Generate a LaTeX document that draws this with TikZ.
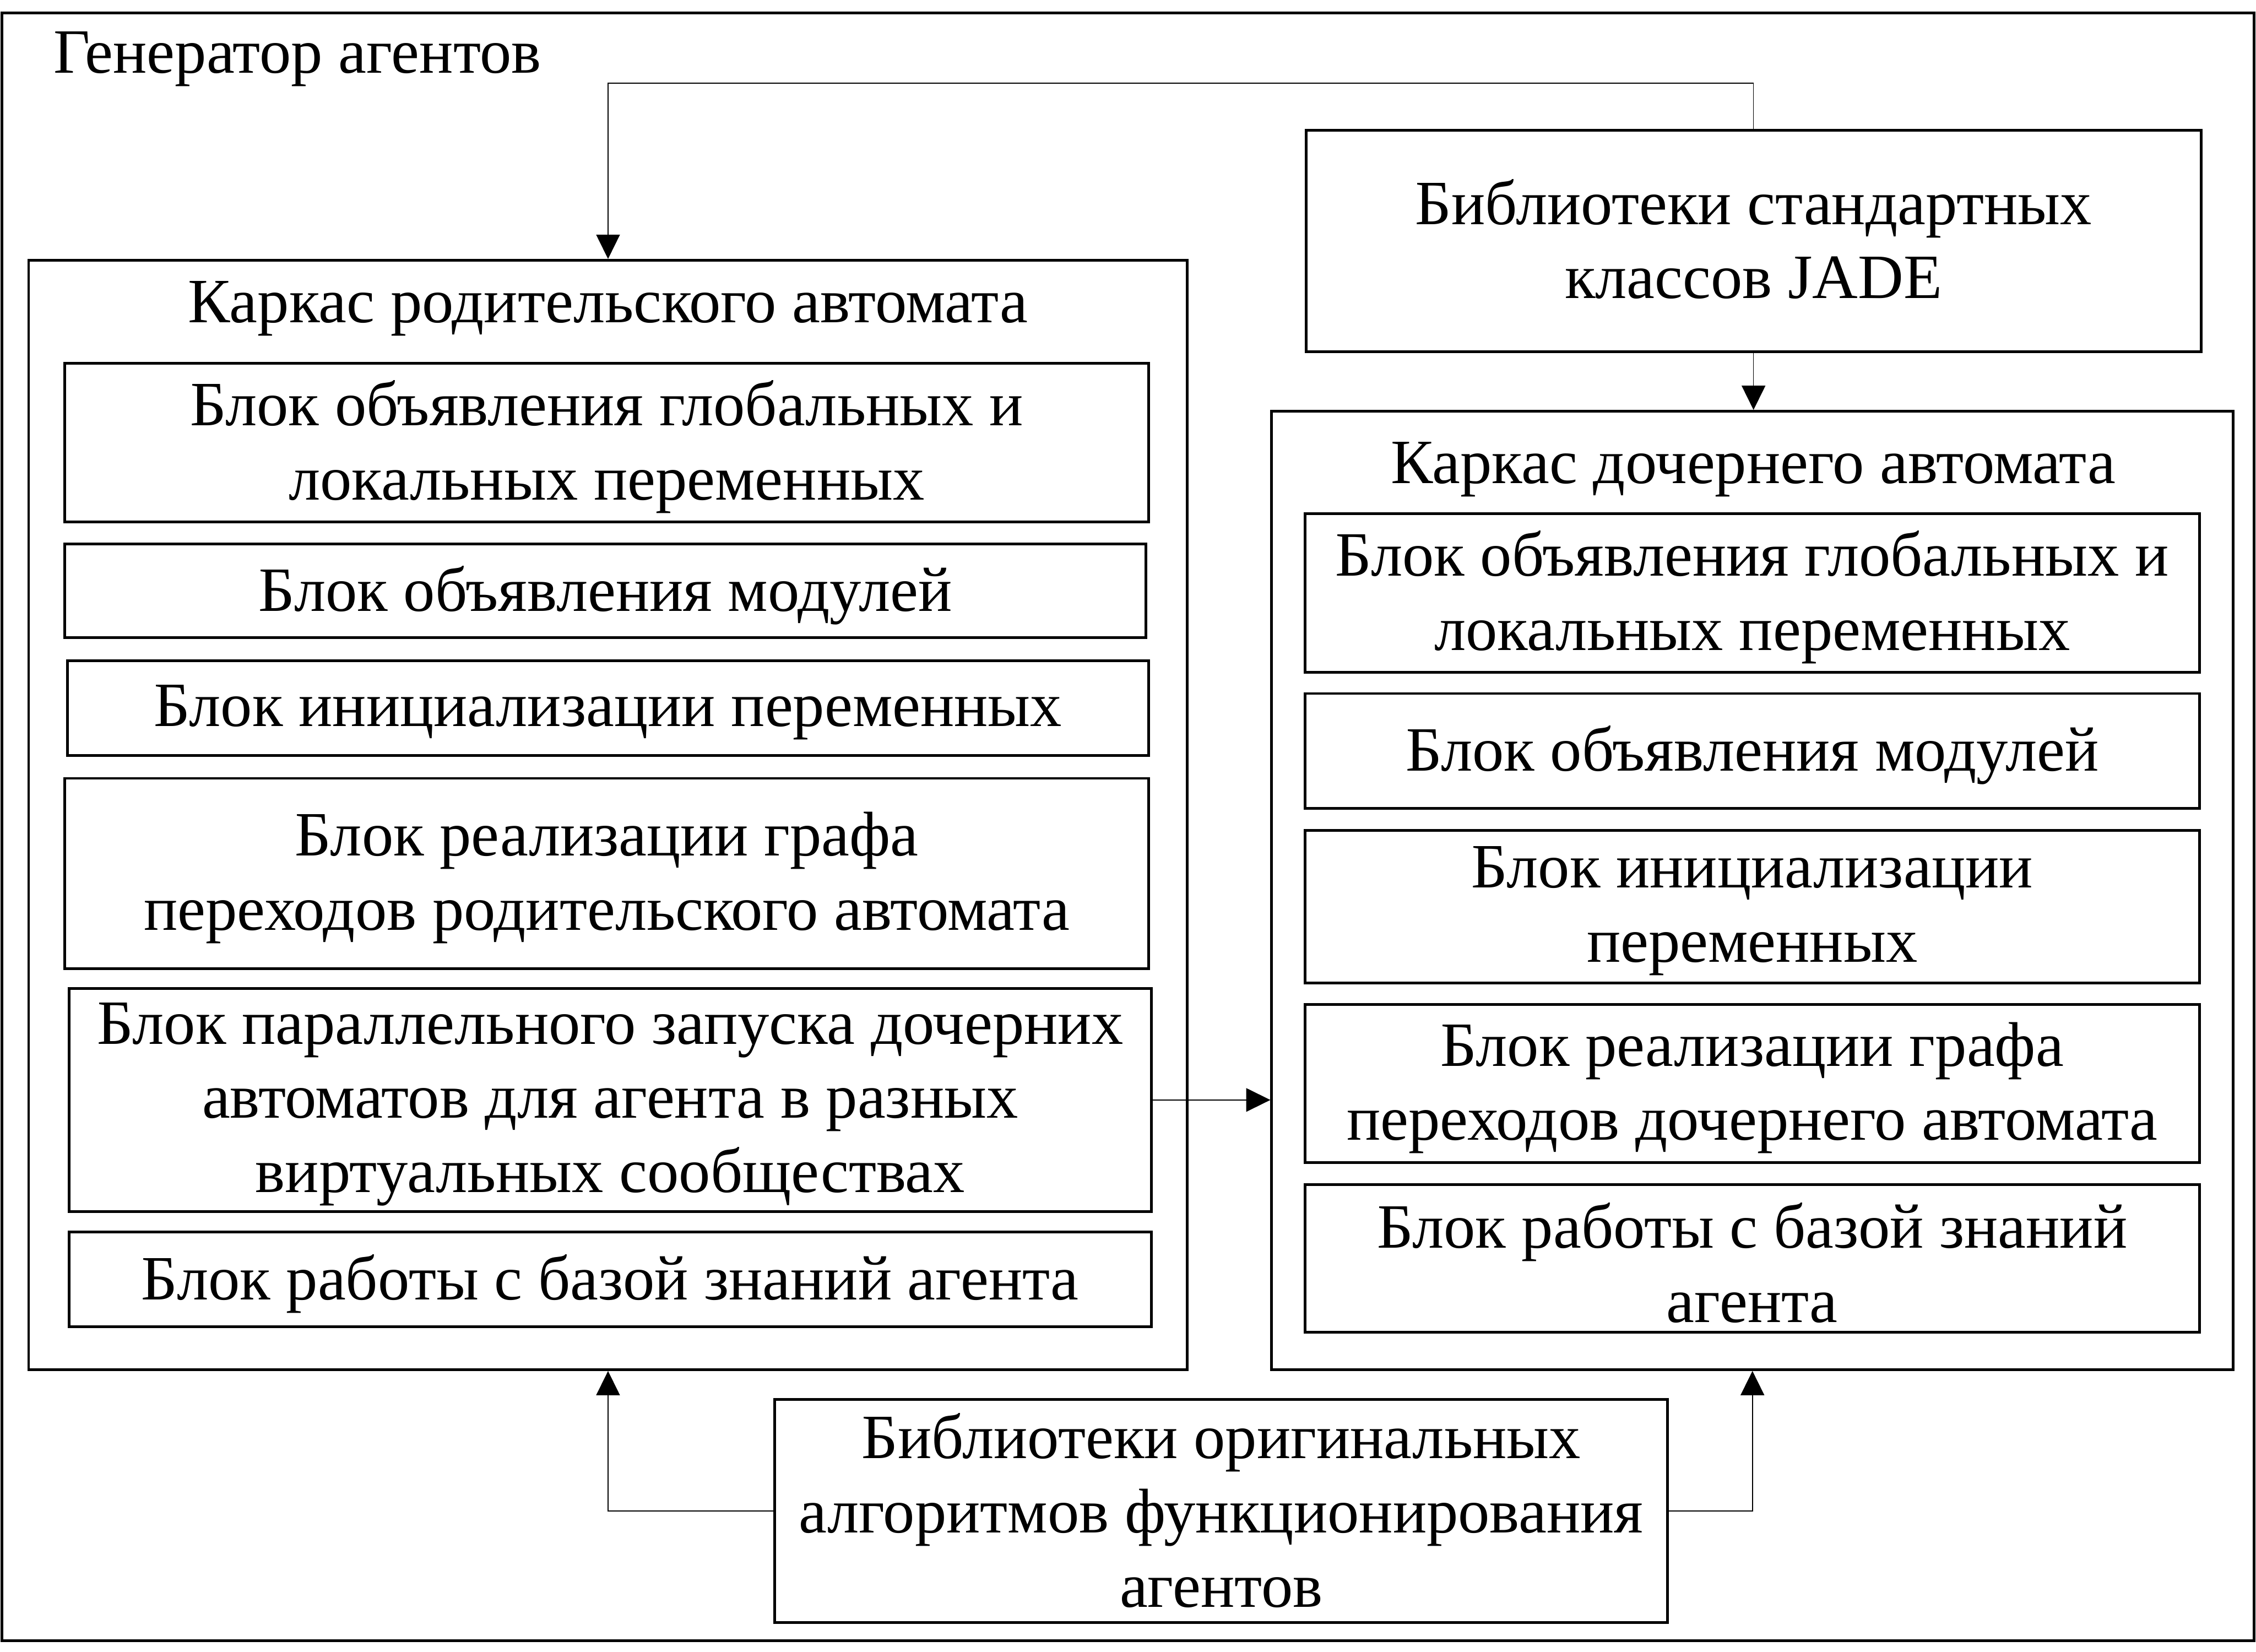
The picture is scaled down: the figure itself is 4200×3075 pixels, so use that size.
\documentclass[tikz,border=0pt]{standalone}
\usepackage{fontspec}
\setmainfont{Liberation Serif}
\usetikzlibrary{arrows.meta}
\begin{document}
\begin{tikzpicture}[x=0.01cm,y=-0.01cm,
  txt/.style={font=\fontsize{33.4}{39.3}\selectfont, align=center, inner sep=0pt},
  blk/.style={draw, line width=0.05cm, inner sep=0pt},
  conn/.style={line width=0.45pt, -{Triangle[length=0.45cm,width=0.44cm]}},
  dn/.style={yshift=-0.08cm}]
\useasboundingbox (0,0) rectangle (4200,3075);
% outer frame
\node[blk, minimum width=41.90cm, minimum height=30.28cm] (outer) at (2100,1539) {};
\node[txt, anchor=base west] (gen) at (99,136) {Генератор агентов};
% parent frame
\node[blk, minimum width=21.56cm, minimum height=20.64cm] (P) at (1132,1517) {};
\node[txt, anchor=base] (Pt) at (1132,600) {Каркас родительского автомата};
% child frame
\node[blk, minimum width=17.89cm, minimum height=17.83cm] (C) at (3262.5,1657.5) {};
\node[txt, anchor=base] (Ct) at (3264,900) {Каркас дочернего автомата};
% JADE
\node[blk, minimum width=16.65cm, minimum height=4.12cm] (J) at (3264.5,449) {};
\node[txt] (Jt) at ([yshift=0.04cm]J.center) {Библиотеки стандартных\\классов JADE};
% bottom
\node[blk, minimum width=16.61cm, minimum height=4.15cm] (B) at (2273.5,2812.5) {};
\node[txt] (Bt) at ([yshift=0.01cm]B.center) {Библиотеки оригинальных\\алгоритмов функционирования\\агентов};
% left blocks
\node[blk, minimum width=20.17cm, minimum height=2.95cm] (L1) at (1129.5,824) {};
\node[txt] (L1t) at ([dn]L1.center) {Блок объявления глобальных и\\локальных переменных};
\node[blk, minimum width=20.12cm, minimum height=1.74cm] (L2) at (1127,1100) {};
\node[txt] (L2t) at ([dn]L2.center) {Блок объявления модулей};
\node[blk, minimum width=20.12cm, minimum height=1.76cm] (L3) at (1132,1318) {};
\node[txt] (L3t) at ([dn]L3.center) {Блок инициализации переменных};
\node[blk, minimum width=20.17cm, minimum height=3.54cm] (L4) at (1129.5,1626) {};
\node[txt] (L4t) at ([dn]L4.center) {Блок реализации графа\\переходов родительского автомата};
\node[blk, minimum width=20.14cm, minimum height=4.15cm] (L5) at (1136,2047.5) {};
\node[txt] (L5t) at ([dn]L5.center) {Блок параллельного запуска дочерних\\автоматов для агента в разных\\виртуальных сообществах};
\node[blk, minimum width=20.14cm, minimum height=1.77cm] (L6) at (1136,2381.5) {};
\node[txt] (L6t) at ([dn]L6.center) {Блок работы с базой знаний агента};
% right blocks
\node[blk, minimum width=16.64cm, minimum height=2.95cm] (R1) at (3262,1103.5) {};
\node[txt] (R1t) at ([dn]R1.center) {Блок объявления глобальных и\\локальных переменных};
\node[blk, minimum width=16.64cm, minimum height=2.14cm] (R2) at (3262,1398) {};
\node[txt] (R2t) at ([dn]R2.center) {Блок объявления модулей};
\node[blk, minimum width=16.64cm, minimum height=2.84cm] (R3) at (3262,1688) {};
\node[txt] (R3t) at ([dn]R3.center) {Блок инициализации\\переменных};
\node[blk, minimum width=16.64cm, minimum height=2.94cm] (R4) at (3262,2017) {};
\node[txt] (R4t) at ([dn]R4.center) {Блок реализации графа\\переходов дочернего автомата};
\node[blk, minimum width=16.64cm, minimum height=2.75cm] (R5) at (3262,2342.5) {};
\node[txt] (R5t) at ([dn]R5.center) {Блок работы с базой знаний\\агента};
% connectors
\coordinate (top) at (1132,155);
\draw[conn] (J.north) |- (top) -- (P.north);
\draw[conn] (J.south) -- (J.south |- C.north);
\draw[conn] (L5.east) -- (L5.east -| C.west);
\draw[conn] (B.west) -| (P.south);
\draw[conn] (B.east) -| (C.south);
\end{tikzpicture}
\end{document}
